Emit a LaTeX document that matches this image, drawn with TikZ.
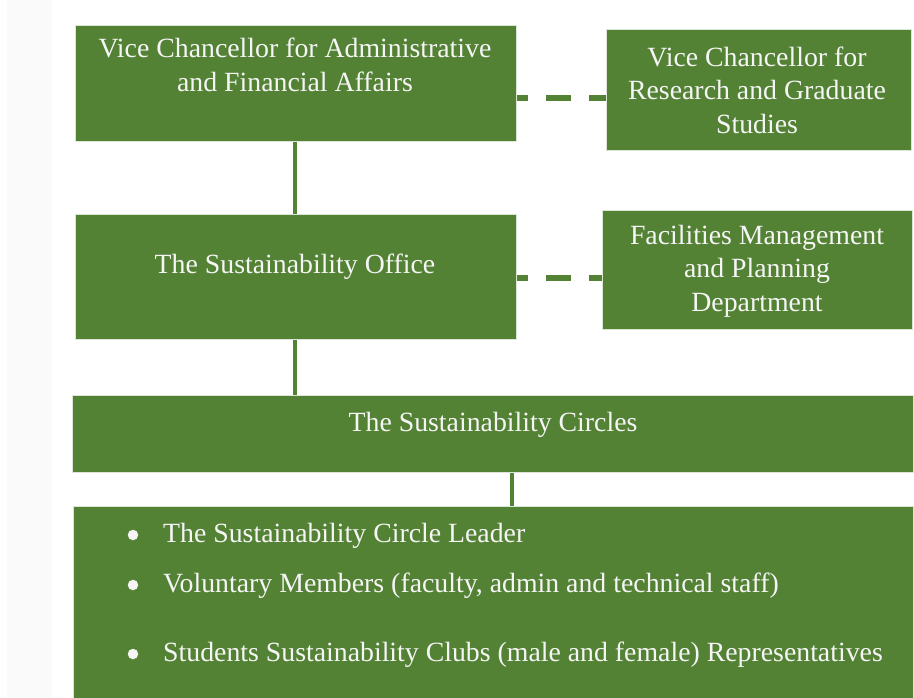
\documentclass[tikz,border=0pt]{standalone}
\usepackage{fontspec}
\setmainfont{Liberation Serif}
\definecolor{boxgreen}{HTML}{548235}
\definecolor{rim}{HTML}{DDE6D6}
\begin{document}
\begin{tikzpicture}[x=1pt,y=-1pt,
  box/.style={draw=rim, line width=0.8pt, fill=boxgreen, inner sep=0pt, anchor=north west},
  caption/.style={text=white!96!black, font=\fontsize{27.8}{33.5}\selectfont, align=center, inner sep=0pt},
  item/.style={text=white!96!black, font=\fontsize{27.8}{33}\selectfont, inner sep=0pt, anchor=west},
  dot/.style={circle, fill=white!96!black, minimum size=10.5pt, inner sep=0pt},
  link/.style={draw=boxgreen, line width=4pt},
  duty/.style={draw=boxgreen, line width=6pt, dash pattern=on 25pt off 18pt, dash phase=14pt}]
  \useasboundingbox (0,0) rectangle (914,697);
  \fill[black!2] (7,0) rectangle (52,697);

  % boxes
  \node[box, minimum width=441pt, minimum height=116pt] (vcaf) at (75,25) {};
  \node[box, minimum width=305pt, minimum height=121pt] (vcrg) at (606,29) {};
  \node[box, minimum width=441pt, minimum height=125pt] (office) at (75,214) {};
  \node[box, minimum width=310pt, minimum height=119pt] (fmpd) at (602,210) {};
  \node[box, minimum width=841pt, minimum height=77pt] (circles) at (72,395) {};
  \begin{scope}
    \clip (0,0) rectangle (914,697);
    \node[box, minimum width=840pt, minimum height=200pt] (members) at (73,506) {};
  \end{scope}

  % captions
  \node[caption] (tvcaf) at (295,65) {Vice Chancellor for Administrative\\and Financial Affairs};
  \node[caption] (tvcrg) at (757,90) {Vice Chancellor for\\Research and Graduate\\Studies};
  \node[caption] (toffice) at (295,267) {The Sustainability Office};
  \node[caption] (tfmpd) at (757,271) {Facilities Management\\and Planning\\Department};
  \node[caption] (tcircles) at (493,425) {The Sustainability Circles};

  % member list
  \node[dot] (d1) at (133,535) {};
  \node[dot] (d2) at (133,585) {};
  \node[dot] (d3) at (133,654) {};
  \node[item] (m1) at (163,536) {The Sustainability Circle Leader};
  \node[item] (m2) at (163,586) {Voluntary Members (faculty, admin and technical staff)};
  \node[item] (m3) at (163,655) {Students Sustainability Clubs (male and female) Representatives};

  % reporting lines
  \draw[link] (vcaf.south -| 295,0) -- (office.north -| 295,0);
  \draw[link] (office.south -| 295,0) -- (circles.north -| 295,0);
  \draw[link] (circles.south -| 512,0) -- (members.north -| 512,0);

  % coordination lines
  \draw[duty] (vcaf.east |- 0,98) -- (vcrg.west |- 0,98);
  \draw[duty] (office.east |- 0,278) -- (fmpd.west |- 0,278);
\end{tikzpicture}
\end{document}
